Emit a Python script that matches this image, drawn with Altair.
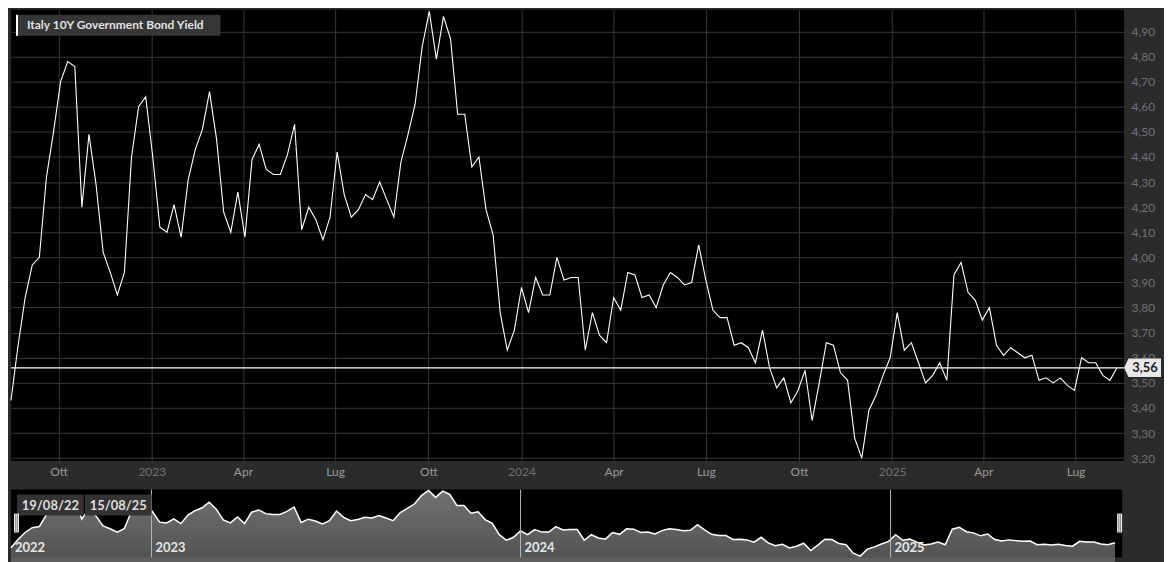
import altair as alt
import pandas as pd

# ---------------- data ----------------
title_text = "Italy 10Y Government Bond Yield"
start_date = "2022-08-15"          # first weekly observation
domain_start = "2022-08-15"
domain_end = "2025-08-18"

yields = [
    3.43, 3.65, 3.84, 3.97, 4.00, 4.32, 4.50, 4.70, 4.78, 4.76,
    4.20, 4.49, 4.29, 4.02, 3.94, 3.85, 3.94, 4.40, 4.60, 4.64,
    4.40, 4.12, 4.10, 4.21, 4.08, 4.31, 4.43, 4.51, 4.66, 4.47,
    4.18, 4.10, 4.26, 4.08, 4.39, 4.45, 4.35, 4.33, 4.33, 4.41,
    4.53, 4.11, 4.20, 4.15, 4.07, 4.16, 4.42, 4.25, 4.16, 4.19,
    4.25, 4.23, 4.30, 4.23, 4.16, 4.38, 4.49, 4.61, 4.84, 4.98,
    4.79, 4.96, 4.87, 4.57, 4.57, 4.36, 4.40, 4.19, 4.09, 3.78,
    3.63, 3.71, 3.88, 3.78, 3.92, 3.85, 3.85, 4.00, 3.91, 3.92,
    3.92, 3.63, 3.78, 3.69, 3.66, 3.84, 3.79, 3.94, 3.93, 3.84,
    3.85, 3.80, 3.89, 3.94, 3.92, 3.89, 3.90, 4.05, 3.91, 3.79,
    3.76, 3.76, 3.65, 3.66, 3.64, 3.58, 3.71, 3.56, 3.48, 3.52,
    3.42, 3.47, 3.55, 3.35, 3.50, 3.66, 3.65, 3.54, 3.51, 3.28,
    3.20, 3.39, 3.45, 3.53, 3.60, 3.78, 3.63, 3.66, 3.58, 3.50,
    3.53, 3.58, 3.51, 3.93, 3.98, 3.86, 3.83, 3.75, 3.80, 3.65,
    3.61, 3.64, 3.62, 3.60, 3.61, 3.51, 3.52, 3.50, 3.52, 3.49,
    3.47, 3.60, 3.58, 3.58, 3.53, 3.51, 3.56,
]

y_ticks = [3.20, 3.30, 3.40, 3.50, 3.60, 3.70, 3.80, 3.90, 4.00,
           4.10, 4.20, 4.30, 4.40, 4.50, 4.60, 4.70, 4.80, 4.90]
month_names = ["Gen", "Feb", "Mar", "Apr", "Mag", "Giu",
               "Lug", "Ago", "Set", "Ott", "Nov", "Dic"]

nav_year_dates = ["2023-01-01", "2024-01-01", "2025-01-01"]
nav_label_dates = ["2022-08-15", "2023-01-01", "2024-01-01", "2025-01-01"]
nav_labels = ["2022", "2023", "2024", "2025"]
range_labels = ["19/08/22", "15/08/25"]

# ---------------- tables ----------------
dates = pd.date_range(start_date, periods=len(yields), freq="7D").strftime("%Y-%m-%d")
df = pd.DataFrame({"date": list(dates), "y": yields})
last_df = pd.DataFrame({"date": [dates[-1]], "y": [yields[-1]],
                        "label": [f"{yields[-1]:.2f}".replace(".", ",")]})
title_df = pd.DataFrame({"t": [title_text]})
rules_df = pd.DataFrame({"date": nav_year_dates})
yl_df = pd.DataFrame({"date": nav_label_dates, "label": nav_labels})
r1_df = pd.DataFrame({"t": [range_labels[0]]})
r2_df = pd.DataFrame({"t": [range_labels[1]]})

# ---------------- layout ----------------
W, H = 1116, 452
AX = 40
XB = 26
NW, NH = 1114, 68
FONT = "Lato"
BG = "#2b2b2b"


def dt(s):
    y, m, d = (int(p) for p in s.split("-"))
    return alt.DateTime(year=y, month=m, date=d, utc=True)


x_dom = [dt(domain_start), dt(domain_end)]

label_expr_x = ("utcmonth(datum.value) == 0 ? utcFormat(datum.value, '%Y') : "
                + "[" + ",".join("'" + m + "'" for m in month_names) + "]"
                + "[utcmonth(datum.value)]")

x_main = alt.X(
    "date:T",
    scale=alt.Scale(type="utc", domain=x_dom, nice=False),
    axis=alt.Axis(
        title=None, tickCount={"interval": "month", "step": 3},
        labelExpr=label_expr_x, grid=True, gridColor="#383838", gridWidth=1,
        domain=False, ticks=False, labelPadding=6, labelFont=FONT, labelFontSize=12,
        labelColor={"condition": {"test": "utcmonth(datum.value) == 0", "value": "#707070"},
                    "value": "#9a9a9a"},
        minExtent=XB, maxExtent=XB, labelFlush=False, labelOverlap=False,
    ),
)
y_scale = alt.Scale(domain=[3.19, 4.986], nice=False, zero=False)
y_main = alt.Y(
    "y:Q",
    scale=y_scale,
    axis=alt.Axis(
        title=None, orient="right", values=y_ticks,
        labelExpr="replace(format(datum.value, '.2f'), '.', ',')",
        grid=True, gridColor="#383838", gridWidth=1, domain=False, ticks=False,
        labelPadding=7, labelFont=FONT, labelFontSize=12, labelColor="#727272",
        labelAlign="left", minExtent=AX, maxExtent=AX, labelFlush=False,
        labelOverlap=False,
    ),
)

line = alt.Chart(df).mark_line(color="white", strokeWidth=1.1).encode(x=x_main, y=y_main)

hline = alt.Chart(last_df).mark_rule(color="white", strokeWidth=1.2).encode(y=y_main)

tag_shape = "M-1,0L-0.76,-0.5L1,-0.5L1,0.5L-0.76,0.5Z"
tag = alt.Chart(last_df).mark_point(
    shape=tag_shape, size=1369, filled=True, color="#e8e8e8", opacity=1, strokeWidth=0
).encode(x=alt.value(W + 18.5), y=y_main)
tag_text = alt.Chart(last_df).mark_text(
    font=FONT, fontWeight="bold", fontSize=13, color="#1e1e1e", align="center",
    baseline="middle"
).encode(x=alt.value(W + 21), y=y_main, text="label:N")

tbox = alt.Chart(title_df).mark_rect(color="#363636").encode(
    x=alt.value(5), x2=alt.value(210), y=alt.value(5), y2=alt.value(26))
tbar = alt.Chart(title_df).mark_rect(color="white").encode(
    x=alt.value(5), x2=alt.value(7), y=alt.value(5), y2=alt.value(26))
ttext = alt.Chart(title_df).mark_text(
    font=FONT, fontWeight="bold", fontSize=12, color="#e2e2e2", align="left",
    baseline="middle"
).encode(x=alt.value(16), y=alt.value(15.5), text="t:N")

main = alt.layer(line, hline, tag, tag_text, tbox, tbar, ttext).properties(width=W, height=H)

# ---------------- navigator ----------------
x_nav = alt.X("date:T", scale=alt.Scale(type="utc", domain=x_dom, nice=False), axis=None)
y_nav = alt.Y("y:Q", scale=alt.Scale(domain=[3.165, 5.0], nice=False, zero=False), axis=None)

nav_area = alt.Chart(df).mark_area(
    color=alt.Gradient(
        gradient="linear",
        stops=[alt.GradientStop(color="#a2a2a2", offset=0),
               alt.GradientStop(color="#2c2c2c", offset=1)],
        x1=1, x2=1, y1=0, y2=1,
    ),
    line={"color": "white", "strokeWidth": 1.5},
).encode(x=x_nav, y=y_nav)

nav_rules = alt.Chart(rules_df).mark_rule(color="#b8b8b8", strokeWidth=1).encode(x=x_nav)
nav_text = alt.Chart(yl_df).mark_text(
    font=FONT, fontWeight="bold", fontSize=13, color="#e6e6e6", align="left",
    baseline="alphabetic", dx=4
).encode(x=x_nav, y=alt.value(NH - 5), text="label:N")

box1 = alt.Chart(r1_df).mark_rect(color="#333333").encode(
    x=alt.value(6), x2=alt.value(73), y=alt.value(5), y2=alt.value(26))
box2 = alt.Chart(r2_df).mark_rect(color="#333333").encode(
    x=alt.value(74), x2=alt.value(141), y=alt.value(5), y2=alt.value(26))
box1_t = alt.Chart(r1_df).mark_text(
    font=FONT, fontWeight="bold", fontSize=13, color="#dedede", baseline="middle"
).encode(x=alt.value(39.5), y=alt.value(16), text="t:N")
box2_t = alt.Chart(r2_df).mark_text(
    font=FONT, fontWeight="bold", fontSize=13, color="#dedede", baseline="middle"
).encode(x=alt.value(107.5), y=alt.value(16), text="t:N")

hl = alt.Chart(r1_df).mark_rect(color="#f2f2f2").encode(
    x=alt.value(3), x2=alt.value(8), y=alt.value(24), y2=alt.value(43))
hl_a = alt.Chart(r1_df).mark_rule(color="#666666", strokeWidth=0.8).encode(
    x=alt.value(4.7), y=alt.value(24), y2=alt.value(43))
hl_b = alt.Chart(r1_df).mark_rule(color="#666666", strokeWidth=0.8).encode(
    x=alt.value(6.3), y=alt.value(24), y2=alt.value(43))
hr = alt.Chart(r2_df).mark_rect(color="#f2f2f2").encode(
    x=alt.value(NW - 5), x2=alt.value(NW), y=alt.value(24), y2=alt.value(43))
hr_a = alt.Chart(r2_df).mark_rule(color="#666666", strokeWidth=0.8).encode(
    x=alt.value(NW - 3.3), y=alt.value(24), y2=alt.value(43))
hr_b = alt.Chart(r2_df).mark_rule(color="#666666", strokeWidth=0.8).encode(
    x=alt.value(NW - 1.7), y=alt.value(24), y2=alt.value(43))

nav = alt.layer(nav_area, nav_rules, nav_text, box1, box2, box1_t, box2_t,
                hl, hl_a, hl_b, hr, hr_a, hr_b).properties(width=NW, height=NH)

chart = (
    alt.vconcat(main, nav, spacing=0)
    .properties(background=BG, padding=0)
    .configure_view(fill="black", stroke=None)
)

chart.save("out.html", embed_options={"renderer": "svg", "actions": False})
